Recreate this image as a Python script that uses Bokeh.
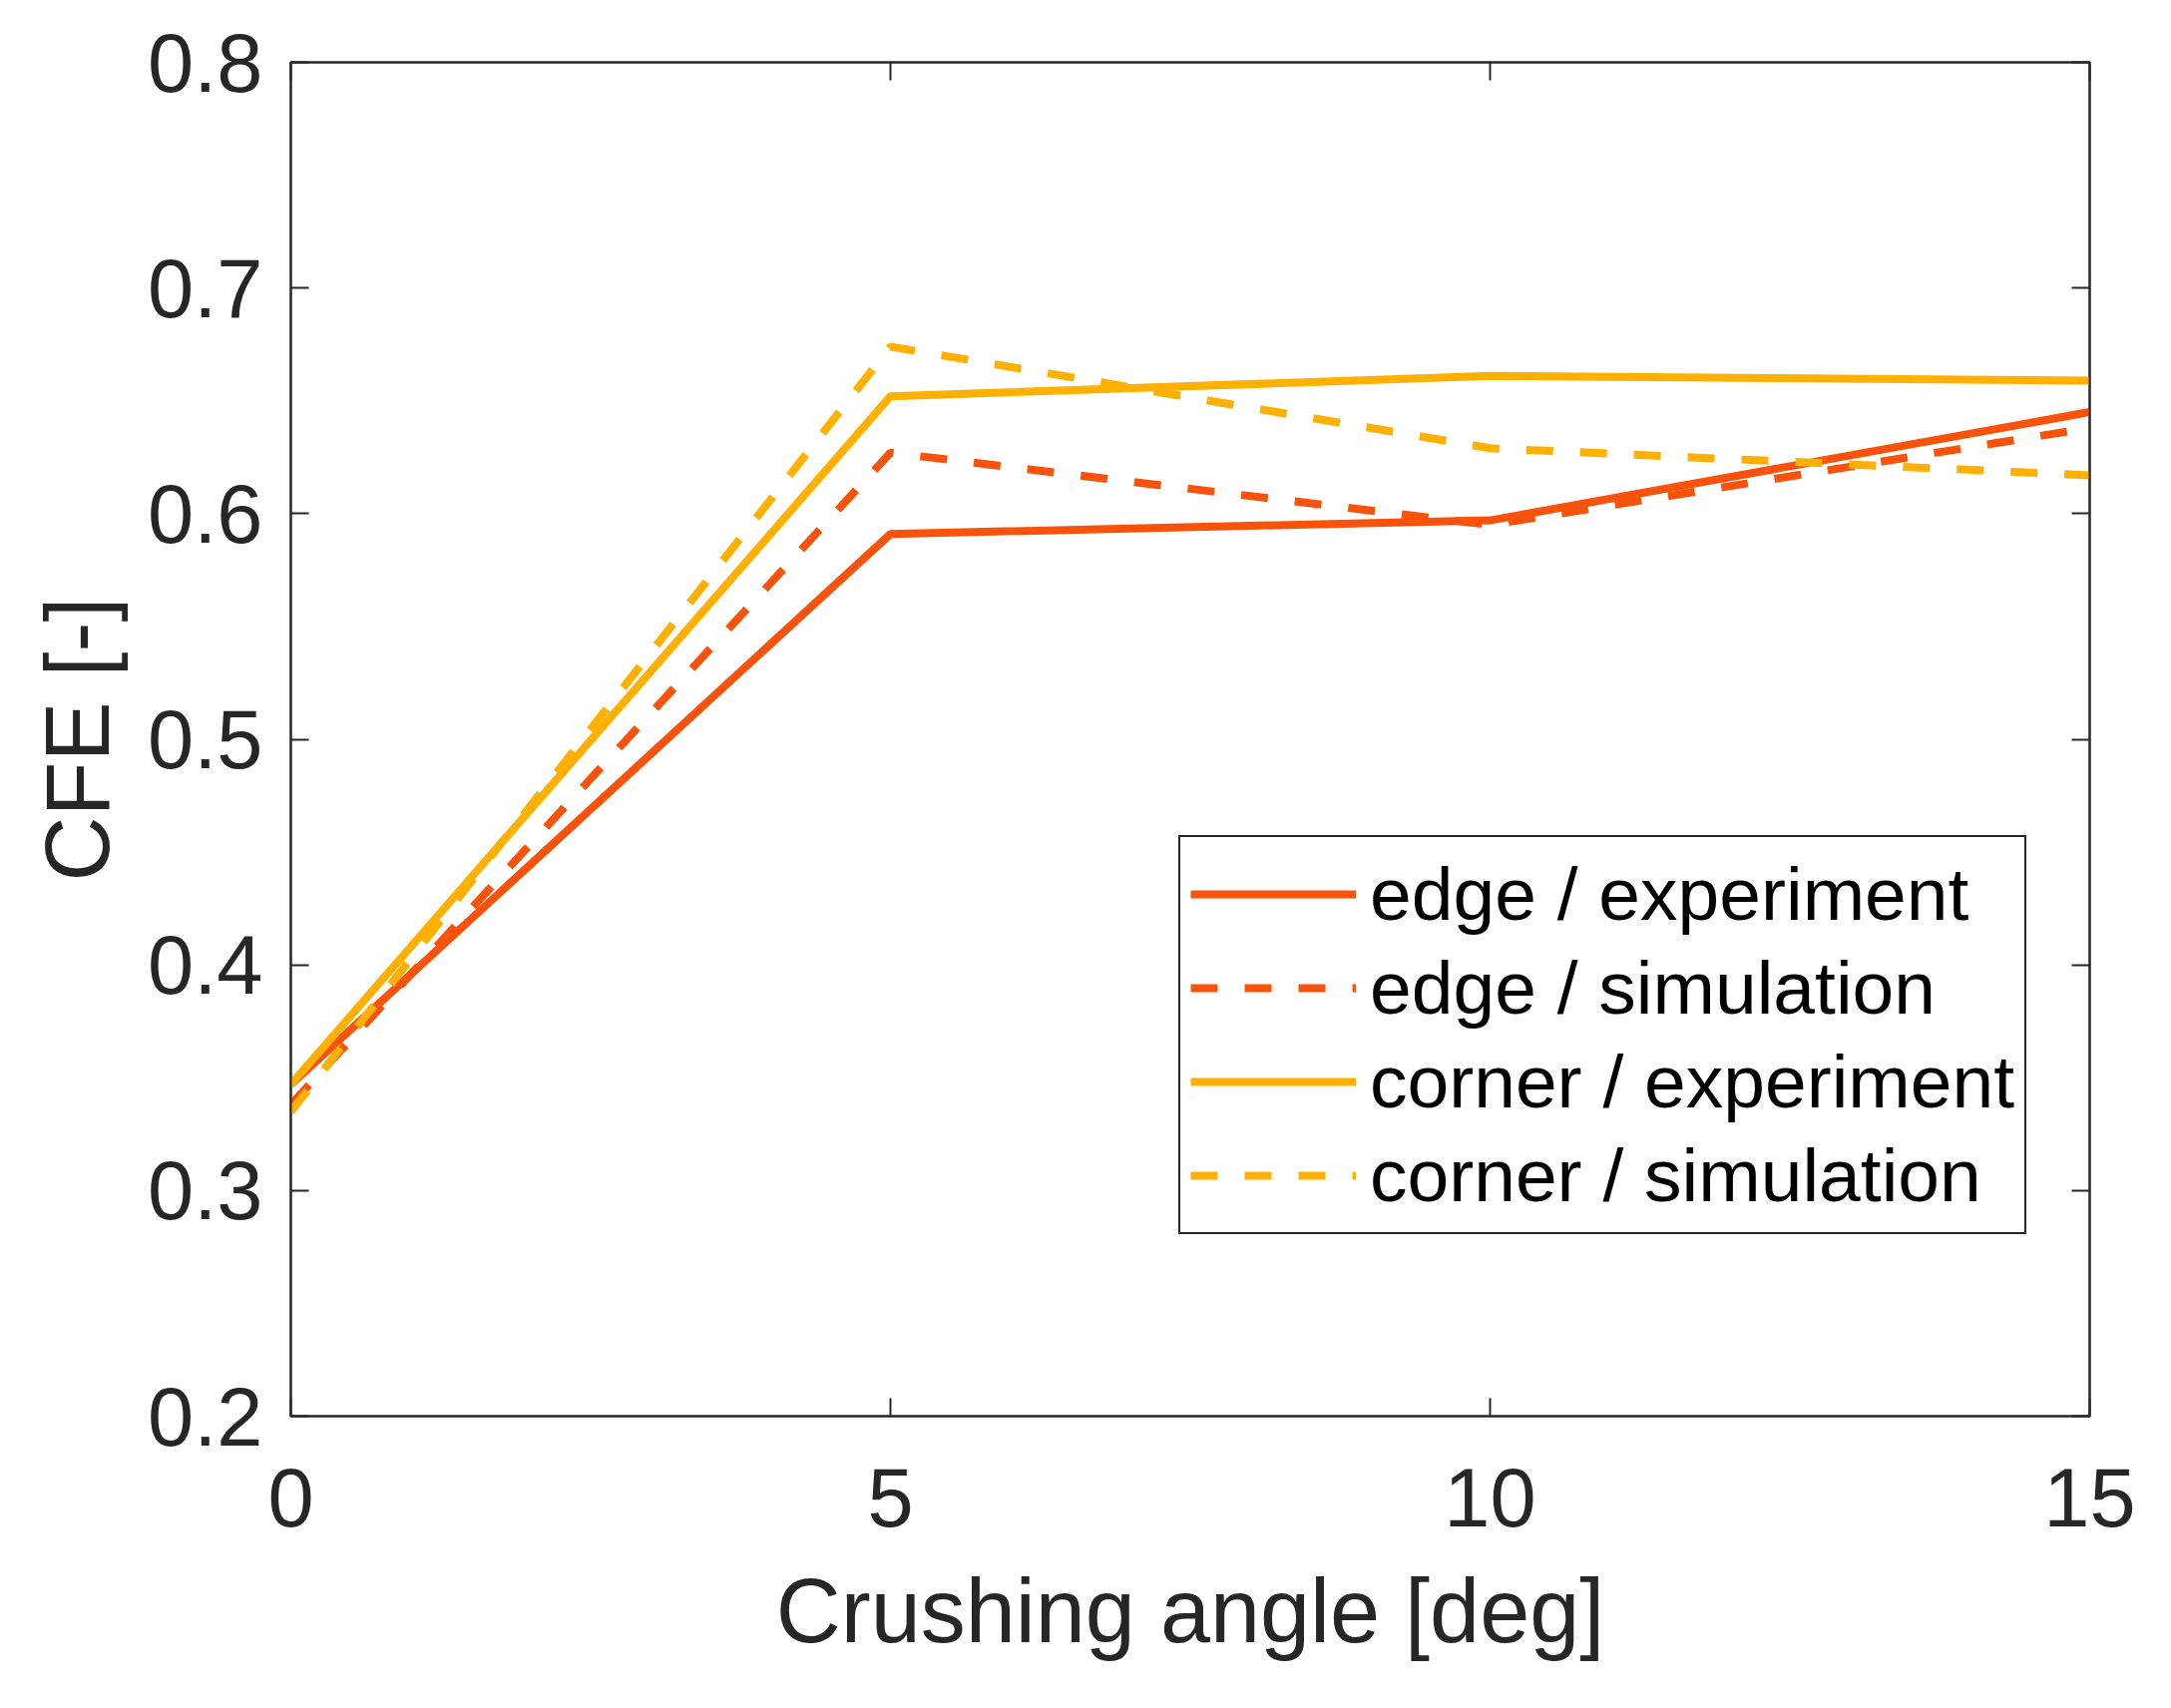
# CFE vs crushing angle, edge / corner, experiment / simulation
from bokeh.plotting import figure
from bokeh.models import LinearAxis, FixedTicker, CustomJSTickFormatter, Range1d
from bokeh.embed import file_html
from bokeh.resources import INLINE

# data
angle = [0, 5, 10, 15]
edge_exp = [0.347, 0.591, 0.597, 0.645]
edge_sim = [0.338, 0.627, 0.595, 0.638]
corner_exp = [0.347, 0.652, 0.661, 0.659]
corner_sim = [0.335, 0.674, 0.629, 0.617]

x_ticks = [0, 5, 10, 15]
y_ticks = [0.2, 0.3, 0.4, 0.5, 0.6, 0.7, 0.8]

FONT = "Liberation Sans"
DARK = "#262626"
RED = "#F9530B"
GOLD = "#FFB000"

p = figure(width=2160, height=1696, frame_width=1803, frame_height=1357,
           x_range=Range1d(0, 15), y_range=Range1d(0.2, 0.8),
           output_backend="svg", toolbar_location=None,
           min_border_left=291, min_border_top=62,
           min_border_right=66, min_border_bottom=277)

p.background_fill_color = "white"
p.border_fill_color = "white"
p.outline_line_color = DARK
p.outline_line_width = 2
p.xgrid.visible = False
p.ygrid.visible = False

# draw the four series
p.line(angle, edge_exp, line_color=RED, line_width=8,
       legend_label="edge / experiment")
p.line(angle, edge_sim, line_color=RED, line_width=8, line_dash="27 27",
       legend_label="edge / simulation")
p.line(angle, corner_exp, line_color=GOLD, line_width=8,
       legend_label="corner / experiment")
p.line(angle, corner_sim, line_color=GOLD, line_width=8, line_dash="27 27",
       legend_label="corner / simulation")

# mirrored axes on top and right, ticks only
p.add_layout(LinearAxis(), "right")
p.add_layout(LinearAxis(), "above")

for ax in p.xaxis:
    ax.ticker = FixedTicker(ticks=x_ticks)
for ax in p.yaxis:
    ax.ticker = FixedTicker(ticks=y_ticks)

for ax in p.xaxis + p.yaxis:
    ax.major_tick_in = 18
    ax.major_tick_out = 0
    ax.minor_tick_line_color = None
    ax.major_tick_line_color = DARK
    ax.major_tick_line_width = 2
    ax.axis_line_color = DARK
    ax.axis_line_width = 2
    ax.major_label_text_font = FONT
    ax.major_label_text_font_size = "83px"
    ax.major_label_text_color = DARK
    ax.axis_label_text_font = FONT
    ax.axis_label_text_font_size = "90px"
    ax.axis_label_text_font_style = "normal"
    ax.axis_label_text_color = DARK

p.above[0].formatter = CustomJSTickFormatter(code="return ''")
p.right[0].formatter = CustomJSTickFormatter(code="return ''")

xa = p.below[0]
xa.axis_label = "Crushing angle [deg]"
xa.major_label_standoff = 52
xa.axis_label_standoff = 32

ya = p.left[0]
ya.axis_label = "CFE [-]"
ya.major_label_standoff = 28
ya.axis_label_standoff = 17

# legend box inside the axes, lower right
leg = p.legend[0]
leg.location = (890, 182)
leg.border_line_color = DARK
leg.border_line_width = 2
leg.border_line_alpha = 1
leg.background_fill_color = "white"
leg.background_fill_alpha = 1
leg.label_text_font = FONT
leg.label_text_font_size = "75px"
leg.label_text_color = "black"
leg.glyph_width = 166
leg.glyph_height = 94
leg.label_height = 94
leg.label_standoff = 14
leg.spacing = 0
leg.padding = 10
leg.margin = 0

open("out.html", "w").write(file_html(p, INLINE))
